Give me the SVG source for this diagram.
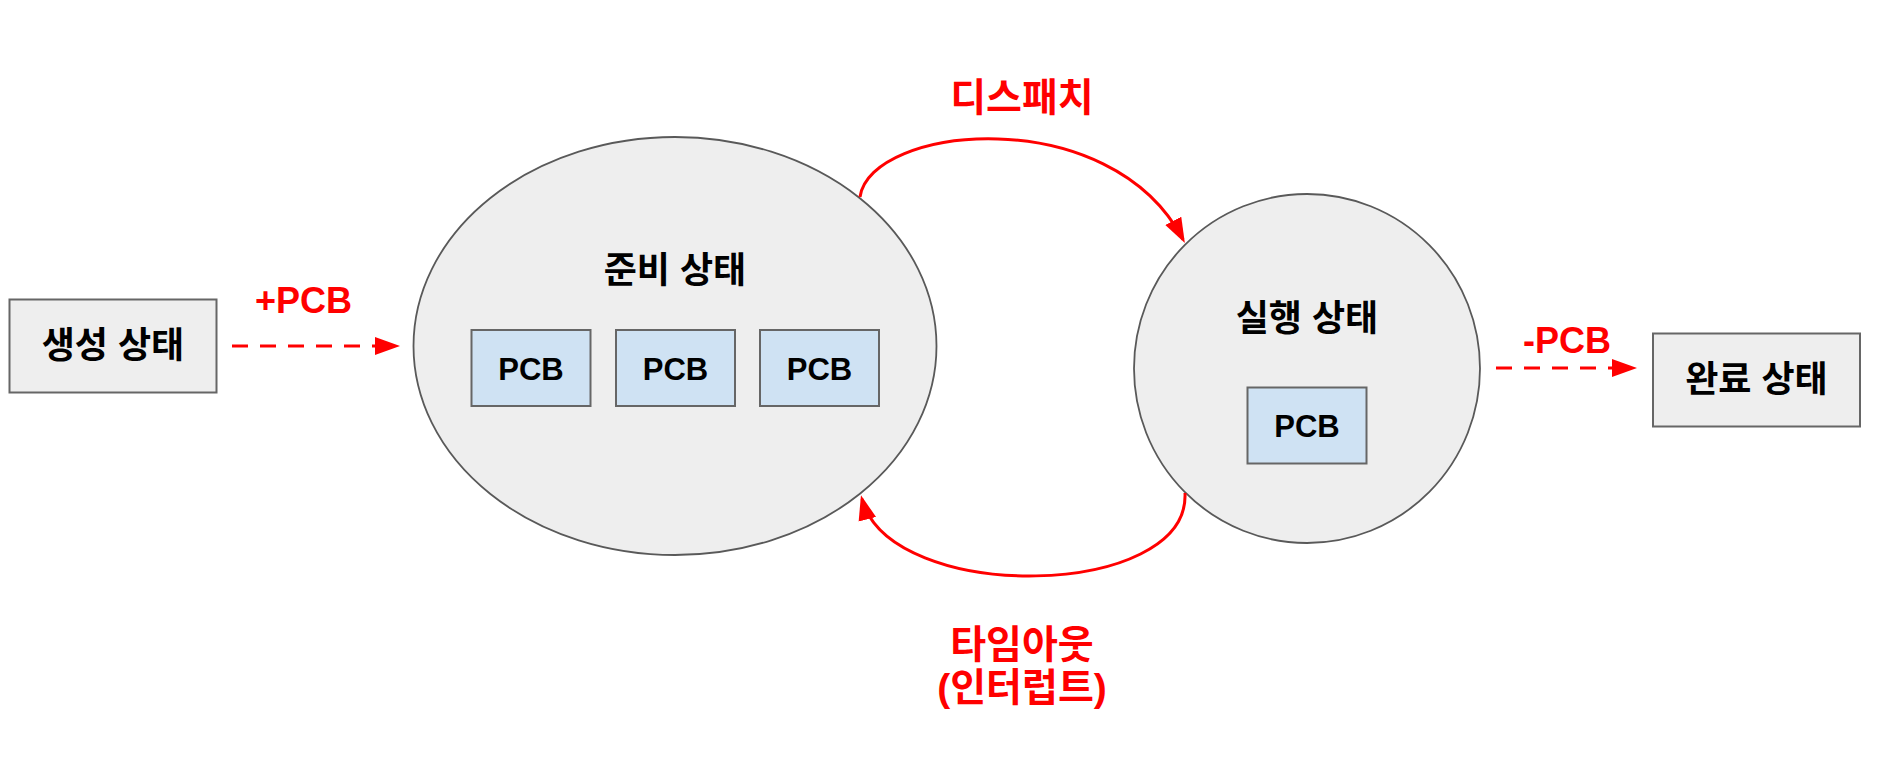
<svg xmlns="http://www.w3.org/2000/svg" width="1888" height="770" viewBox="0 0 1888 770">
  <style>
    .state { fill: #eeeeee; stroke: #666666; stroke-width: 2; }
    .oval { fill: #eeeeee; stroke: #595959; stroke-width: 1.8; }
    .pcb { fill: #cfe2f3; stroke: #666666; stroke-width: 2; }
    .lbl { font-family: "Liberation Sans", "Noto Sans CJK KR", sans-serif; font-weight: bold; fill: #000000; text-anchor: middle; }
    .big { font-size: 36px; }
    .pcbt { font-size: 31px; }
    .red { font-family: "Liberation Sans", "Noto Sans CJK KR", sans-serif; font-weight: bold; fill: #ff0000; text-anchor: middle; font-size: 39px; }
    .redl { font-size: 36px; }
    .conn { fill: none; stroke: #ff0000; stroke-width: 3; }
    .dash { stroke-dasharray: 16 12; }
  </style>
  <defs>
    <marker id="ah" markerUnits="userSpaceOnUse" markerWidth="26" markerHeight="20" viewBox="0 0 26 20" refX="21" refY="10" orient="auto">
      <path d="M0,1 L25,10 L0,19 z" fill="#ff0000"/>
    </marker>
  </defs>

  <g id="created">
    <rect class="state" x="9.5" y="299.5" width="207" height="93"/>
    <text class="lbl big" x="113" y="358">생성 상태</text>
  </g>

  <g id="ready">
    <ellipse class="oval" cx="675" cy="346" rx="261.5" ry="209"/>
    <text class="lbl big" x="675" y="283">준비 상태</text>
    <g id="ready-pcb1">
      <rect class="pcb" x="471.5" y="330" width="119" height="76"/>
      <text class="lbl pcbt" x="531" y="380">PCB</text>
    </g>
    <g id="ready-pcb2">
      <rect class="pcb" x="616" y="330" width="119" height="76"/>
      <text class="lbl pcbt" x="675.5" y="380">PCB</text>
    </g>
    <g id="ready-pcb3">
      <rect class="pcb" x="760" y="330" width="119" height="76"/>
      <text class="lbl pcbt" x="819.5" y="380">PCB</text>
    </g>
  </g>

  <g id="running">
    <ellipse class="oval" cx="1307" cy="368.5" rx="173" ry="174.5"/>
    <text class="lbl big" x="1307" y="331">실행 상태</text>
    <g id="running-pcb">
      <rect class="pcb" x="1247.5" y="387.5" width="119" height="76"/>
      <text class="lbl pcbt" x="1307" y="437">PCB</text>
    </g>
  </g>

  <g id="terminated">
    <rect class="state" x="1653" y="333.5" width="207" height="93"/>
    <text class="lbl big" x="1756.5" y="392">완료 상태</text>
  </g>

  <g id="connectors">
    <path class="conn dash" d="M232,346 L396,346" marker-end="url(#ah)"/>
    <path class="conn dash" d="M1496,368 L1633,368" marker-end="url(#ah)"/>
    <path class="conn" d="M860,197 C870,125 1110,100 1183,239.5" marker-end="url(#ah)"/>
    <path class="conn" d="M1185,493 C1190,600 890,605 862,499" marker-end="url(#ah)"/>
  </g>

  <g id="labels">
    <text class="red redl" x="303.5" y="313">+PCB</text>
    <text class="red redl" x="1567" y="353">-PCB</text>
    <text class="red" x="1022" y="111">디스패치</text>
    <text class="red" x="1022" y="658">타임아웃</text>
    <text class="red" x="1022" y="701">(인터럽트)</text>
  </g>
</svg>
